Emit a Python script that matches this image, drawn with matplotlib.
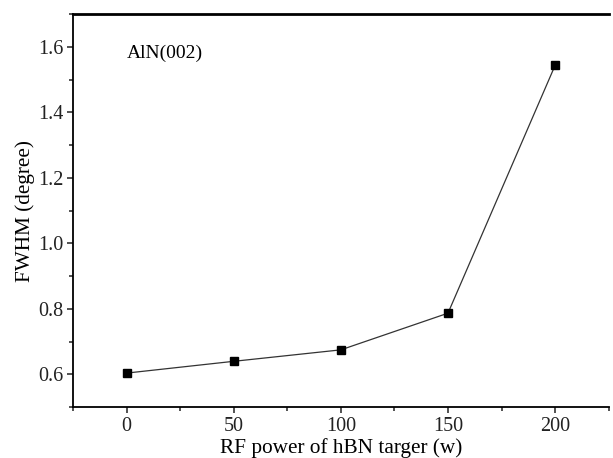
import matplotlib
matplotlib.use("Agg")
import matplotlib.pyplot as plt
from matplotlib.ticker import MultipleLocator

# data
rf_power = [0, 50, 100, 150, 200]
fwhm = [0.604, 0.640, 0.675, 0.787, 1.544]

plt.rcParams["font.family"] = ["Liberation Serif", "DejaVu Serif"]

fig = plt.figure(figsize=(6.13, 4.58), dpi=100)
ax = fig.add_axes([0.119, 0.111, 0.874, 0.858])

ax.plot(rf_power, fwhm, color="#333333", linewidth=0.9,
        marker="s", markersize=6, markerfacecolor="black", markeredgecolor="black")

ax.set_xlim(-25, 225)
ax.set_ylim(0.5, 1.7)
ax.xaxis.set_major_locator(MultipleLocator(50))
ax.xaxis.set_minor_locator(MultipleLocator(25))
ax.yaxis.set_major_locator(MultipleLocator(0.2))
ax.yaxis.set_minor_locator(MultipleLocator(0.1))
ax.yaxis.set_major_formatter(plt.FormatStrFormatter("%.1f"))

ax.tick_params(which="both", direction="out", top=False, right=False,
               labelsize=14.5, width=1.1, colors="#222222", pad=2.5)
ax.tick_params(which="major", length=4.5)
ax.tick_params(which="minor", length=3)

ax.spines["right"].set_visible(False)
ax.spines["left"].set_linewidth(1.3)
ax.spines["bottom"].set_linewidth(1.3)
ax.spines["top"].set_linewidth(2.0)

ax.set_xlabel("RF power of hBN targer (w)", fontsize=15.3, labelpad=1.5)
ax.set_ylabel("FWHM (degree)", fontsize=15.3, labelpad=2)
ax.text(0, 1.58, "AlN(002)", fontsize=14, va="center", ha="left")

plt.savefig("out.png", dpi=100)
